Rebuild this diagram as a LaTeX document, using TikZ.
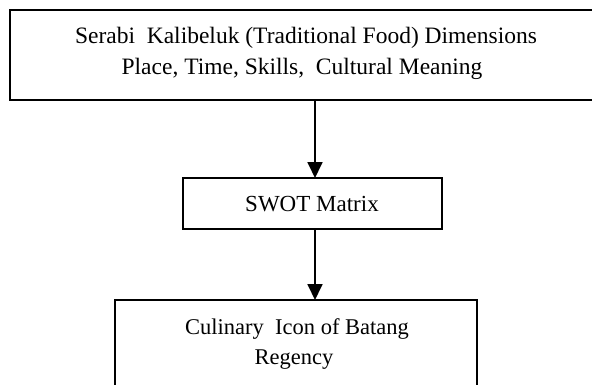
\documentclass[tikz,border=0pt]{standalone}
\usepackage{fontspec}
\setmainfont{Liberation Serif}
\usetikzlibrary{arrows.meta}
\begin{document}
\begin{tikzpicture}[x=1pt,y=-1pt,
  boxline/.style={draw=black,line width=1.6pt,inner sep=0pt,outer sep=0pt},
  lbl/.style={inner sep=0pt,align=center},
  arr/.style={line width=1.8pt,-{Triangle[length=16pt,width=15pt]}}]
\useasboundingbox (0,0) rectangle (592,384);
\clip (0,0) rectangle (592,384);
% boxes
\node[boxline,minimum width=610pt,minimum height=90pt] (top) at (315,55) {};
\node[boxline,minimum width=259pt,minimum height=51pt] (sw) at (312.5,203.5) {};
\node[boxline,minimum width=362pt,minimum height=100pt] (bot) at (296,350) {};
% texts
\node[lbl,anchor=base,font=\fontsize{23.5}{28}\selectfont] (t1) at (306,43) {Serabi\ \ Kalibeluk (Traditional Food) Dimensions};
\node[lbl,anchor=base,font=\fontsize{23.5}{28}\selectfont] (t2) at (302,74) {Place, Time, Skills,\ \ Cultural Meaning};
\node[lbl,anchor=base,font=\fontsize{23}{27}\selectfont] (t3) at (312,211) {SWOT Matrix};
\node[lbl,anchor=base,font=\fontsize{22.5}{27}\selectfont] (t4) at (297,334) {Culinary\ \ Icon of Batang};
\node[lbl,anchor=base,font=\fontsize{22.5}{27}\selectfont] (t5) at (294,364) {Regency};
% connectors
\draw[arr] (top.south) -- (top.south |- sw.north);
\draw[arr] (sw.south -| top.south) -- (bot.north -| top.south);
\end{tikzpicture}
\end{document}
